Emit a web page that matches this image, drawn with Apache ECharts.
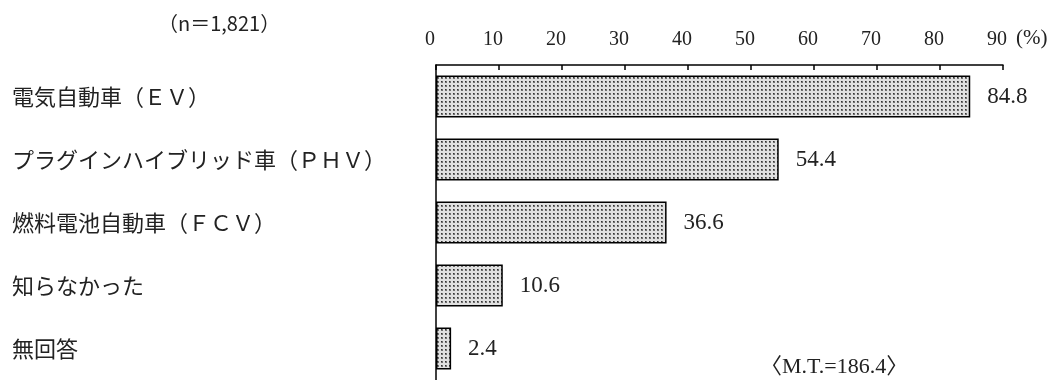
<!DOCTYPE html>
<html>
<head>
<meta charset="utf-8">
<script src="https://cdn.jsdelivr.net/npm/echarts@6/dist/echarts.min.js"></script>
<style>html,body{margin:0;padding:0;background:#fff;}#c{width:1064px;height:380px;}</style>
</head>
<body>
<div id="c"></div>
<script>
const categories = ['電気自動車（ＥＶ）', 'プラグインハイブリッド車（ＰＨＶ）', '燃料電池自動車（ＦＣＶ）', '知らなかった', '無回答'];
const values = [84.8, 54.4, 36.6, 10.6, 2.4];
const xTicks = [0, 10, 20, 30, 40, 50, 60, 70, 80, 90];
const sampleNote = '（n＝1,821）';
const unitNote = '(%)';
const totalNote = '〈M.T.=186.4〉';

const tile = document.createElement('canvas');
tile.width = 4; tile.height = 4;
const tc = tile.getContext('2d');
tc.fillStyle = '#e0e0e0'; tc.fillRect(0, 0, 4, 4);
tc.fillStyle = '#707070'; tc.fillRect(1, 1, 2, 2);
tc.fillStyle = '#333'; tc.fillRect(1, 1, 1, 1);

const chart = echarts.init(document.getElementById('c'), null, {renderer: 'canvas'});
const serif = '"Liberation Serif", "Noto Sans CJK JP", serif';
const cjk = '"Noto Sans CJK JP", sans-serif';
chart.setOption({
  animation: false,
  backgroundColor: '#fff',
  grid: {left: 436, right: 61, top: 65, height: 318, containLabel: false},
  xAxis: {
    type: 'value', position: 'top', min: xTicks[0], max: xTicks[xTicks.length - 1], interval: 10,
    splitLine: {show: false},
    axisLine: {show: true, lineStyle: {color: '#000', width: 1.5}},
    axisTick: {show: true, inside: true, length: 5, lineStyle: {color: '#000', width: 1.5}},
    axisLabel: {fontSize: 20, fontFamily: serif, color: '#222', margin: 15, padding: [0, 12, 0, 0]}
  },
  yAxis: {
    type: 'category', data: categories, inverse: true,
    axisLine: {show: true, lineStyle: {color: '#000', width: 1.5}},
    axisTick: {show: false},
    axisLabel: {fontSize: 22, fontFamily: cjk, color: '#222', align: 'left', margin: 424, padding: [5, 0, 0, 0]}
  },
  series: [{
    type: 'bar', data: values, barWidth: 42,
    itemStyle: {color: {image: tile, repeat: 'repeat'}, borderColor: '#000', borderWidth: 1.5},
    label: {show: true, position: 'right', distance: 17, fontSize: 23, fontFamily: serif, color: '#222',
      formatter: p => p.value.toFixed(1)}
  }],
  graphic: [
    {type: 'text', left: 158, top: 13, style: {text: sampleNote, font: '20px "Noto Sans CJK JP"', fill: '#222'}},
    {type: 'text', left: 1016, top: 28, style: {text: unitNote, font: '21px "Liberation Serif"', fill: '#222'}},
    {type: 'text', left: 760, top: 356, style: {text: totalNote, font: '22px "Liberation Serif", "Noto Sans CJK JP"', fill: '#222'}}
  ]
});
</script>
</body>
</html>
